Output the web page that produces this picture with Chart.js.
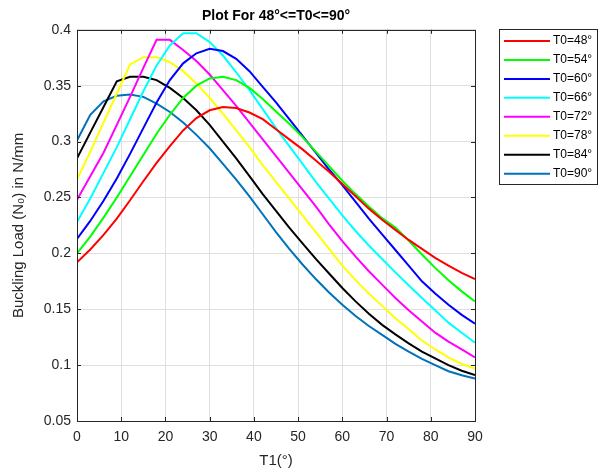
<!DOCTYPE html>
<html lang="en">
<head>
    <meta charset="UTF-8">
    <title>Plot For 48°&lt;=T0&lt;=90°</title>
    <script src="https://cdn.jsdelivr.net/npm/chart.js"></script>
    <style>
        body {
            margin: 0;
            background-color: #fff;
        }
    </style>
</head>
<body>
    <canvas id="plot" width="602" height="474"></canvas>

    <script>
        // T1 angle (deg), sampled every 3 degrees
        const t1 = [0, 3, 6, 9, 12, 15, 18, 21, 24, 27, 30, 33, 36, 39, 42, 45, 48, 51, 54, 57, 60, 63, 66, 69, 72, 75, 78, 81, 84, 87, 90];

        const seriesLabels = ['T0=48°', 'T0=54°', 'T0=60°', 'T0=66°', 'T0=72°', 'T0=78°', 'T0=84°', 'T0=90°'];
        const seriesColors = ['#ff0000', '#00ff00', '#0000ff', '#00ffff', '#ff00ff', '#ffff00', '#000000', '#0072bd'];

        // Buckling load N0 (N/mm) for each T0
        const load48 = [0.192, 0.2035, 0.2165, 0.231, 0.2475, 0.2645, 0.281, 0.296, 0.310, 0.321, 0.328, 0.331, 0.330, 0.326, 0.320, 0.311, 0.302, 0.293, 0.283, 0.273, 0.262, 0.251, 0.240, 0.230, 0.221, 0.212, 0.204, 0.196, 0.189, 0.1825, 0.177];
        const load54 = [0.200, 0.215, 0.232, 0.250, 0.269, 0.288, 0.307, 0.324, 0.339, 0.350, 0.3565, 0.358, 0.355, 0.348, 0.338, 0.327, 0.316, 0.304, 0.291, 0.278, 0.265, 0.253, 0.242, 0.2315, 0.223, 0.2115, 0.199, 0.187, 0.176, 0.166, 0.157];
        const load60 = [0.213, 0.229, 0.247, 0.267, 0.289, 0.312, 0.335, 0.355, 0.370, 0.379, 0.383, 0.381, 0.374, 0.363, 0.349, 0.335, 0.320, 0.305, 0.290, 0.275, 0.261, 0.246, 0.231, 0.217, 0.203, 0.189, 0.175, 0.164, 0.154, 0.145, 0.137];
        const load66 = [0.228, 0.249, 0.272, 0.295, 0.320, 0.345, 0.368, 0.386, 0.397, 0.397, 0.389, 0.377, 0.362, 0.346, 0.329, 0.312, 0.296, 0.280, 0.264, 0.249, 0.234, 0.220, 0.207, 0.195, 0.183, 0.1715, 0.160, 0.149, 0.138, 0.129, 0.120];
        const load72 = [0.248, 0.269, 0.290, 0.315, 0.340, 0.366, 0.391, 0.391, 0.382, 0.372, 0.360, 0.346, 0.332, 0.317, 0.302, 0.287, 0.272, 0.257, 0.242, 0.226, 0.211, 0.197, 0.184, 0.172, 0.160, 0.149, 0.139, 0.129, 0.121, 0.114, 0.107];
        const load78 = [0.266, 0.291, 0.317, 0.343, 0.369, 0.3755, 0.3755, 0.371, 0.363, 0.352, 0.339, 0.325, 0.310, 0.295, 0.279, 0.264, 0.249, 0.234, 0.219, 0.204, 0.189, 0.176, 0.164, 0.153, 0.142, 0.132, 0.122, 0.114, 0.107, 0.101, 0.097];
        const load84 = [0.285, 0.308, 0.331, 0.354, 0.358, 0.358, 0.355, 0.348, 0.339, 0.328, 0.315, 0.300, 0.285, 0.269, 0.253, 0.238, 0.223, 0.209, 0.195, 0.182, 0.169, 0.157, 0.146, 0.136, 0.1275, 0.1195, 0.112, 0.106, 0.100, 0.095, 0.091];
        const load90 = [0.301, 0.324, 0.336, 0.341, 0.342, 0.340, 0.334, 0.3265, 0.317, 0.306, 0.294, 0.280, 0.266, 0.251, 0.235, 0.219, 0.204, 0.190, 0.177, 0.165, 0.154, 0.144, 0.135, 0.127, 0.119, 0.112, 0.1055, 0.100, 0.0945, 0.091, 0.088];

        const xTicks = [0, 10, 20, 30, 40, 50, 60, 70, 80, 90];
        const yTicks = [0.05, 0.1, 0.15, 0.2, 0.25, 0.3, 0.35, 0.4];
        const yTickLabels = ['0.05', '0.1', '0.15', '0.2', '0.25', '0.3', '0.35', '0.4'];

        const allLoads = [load48, load54, load60, load66, load72, load78, load84, load90];

        const axisColor = '#262626';
        const gridColor = '#dfdfdf';

        Chart.defaults.font.family = '"Liberation Sans", Arial, sans-serif';

        // box around the axes, inward ticks and the boxed legend (MATLAB look)
        const matlabBox = {
            id: 'matlabBox',
            afterDraw(chart) {
                const ctx = chart.ctx;
                const a = chart.chartArea;
                const x = chart.scales.x;
                const y = chart.scales.y;
                ctx.save();
                ctx.strokeStyle = axisColor;
                ctx.lineWidth = 1;
                ctx.strokeRect(Math.round(a.left) + 0.5, Math.round(a.top) + 0.5,
                    Math.round(a.right - a.left), Math.round(a.bottom - a.top));
                ctx.beginPath();
                xTicks.forEach(v => {
                    const px = Math.round(x.getPixelForValue(v)) + 0.5;
                    ctx.moveTo(px, a.bottom); ctx.lineTo(px, a.bottom - 4);
                    ctx.moveTo(px, a.top); ctx.lineTo(px, a.top + 4);
                });
                yTicks.forEach(v => {
                    const py = Math.round(y.getPixelForValue(v)) + 0.5;
                    ctx.moveTo(a.left, py); ctx.lineTo(a.left + 4, py);
                    ctx.moveTo(a.right, py); ctx.lineTo(a.right - 4, py);
                });
                ctx.stroke();

                // legend
                const lx = 499.5, ly = 29.5, lw = 98, lh = 155;
                ctx.fillStyle = '#fff';
                ctx.fillRect(lx, ly, lw, lh);
                ctx.strokeStyle = axisColor;
                ctx.strokeRect(lx, ly, lw, lh);
                ctx.font = '12px "Liberation Sans", Arial, sans-serif';
                ctx.textBaseline = 'middle';
                chart.data.datasets.forEach((ds, i) => {
                    const cy = 41 + i * 18.95;
                    ctx.strokeStyle = ds.borderColor;
                    ctx.lineWidth = 2;
                    ctx.beginPath();
                    ctx.moveTo(504, cy);
                    ctx.lineTo(550, cy);
                    ctx.stroke();
                    ctx.fillStyle = '#000';
                    ctx.fillText(ds.label, 553, cy);
                });
                ctx.restore();
            }
        };

        const datasets = allLoads.map((load, i) => ({
            label: seriesLabels[i],
            data: t1.map((t, j) => ({ x: t, y: load[j] })),
            borderColor: seriesColors[i],
            backgroundColor: seriesColors[i],
            borderWidth: 2,
            pointRadius: 0,
            tension: 0,
            fill: false
        }));

        new Chart(document.getElementById('plot'), {
            type: 'line',
            data: { datasets: datasets },
            options: {
                responsive: false,
                animation: false,
                layout: { padding: { left: 0, right: 127, top: 0, bottom: 0 } },
                plugins: {
                    legend: { display: false },
                    tooltip: { enabled: false },
                    title: {
                        display: true,
                        text: 'Plot For 48°<=T0<=90°',
                        color: '#000',
                        fullSize: false,
                        font: { size: 14, weight: 'bold' },
                        padding: { top: 8, bottom: 5 }
                    }
                },
                scales: {
                    x: {
                        type: 'linear',
                        min: 0,
                        max: 90,
                        afterBuildTicks: s => { s.ticks = xTicks.map(v => ({ value: v })); },
                        afterFit: s => { s.height = 53; },
                        grid: { color: gridColor, drawTicks: false },
                        border: { display: false },
                        ticks: { color: axisColor, font: { size: 14 }, padding: 8 },
                        title: {
                            display: true,
                            text: 'T1(°)',
                            color: axisColor,
                            font: { size: 15 },
                            padding: { top: 4, bottom: 4 }
                        }
                    },
                    y: {
                        min: 0.05,
                        max: 0.4,
                        afterBuildTicks: s => { s.ticks = yTicks.map(v => ({ value: v })); },
                        afterFit: s => { s.width = 77; },
                        grid: { color: gridColor, drawTicks: false },
                        border: { display: false },
                        ticks: {
                            color: axisColor,
                            font: { size: 14 },
                            padding: 6,
                            callback: (v, i) => yTickLabels[i]
                        },
                        title: {
                            display: true,
                            text: 'Buckling Load (N₀) in N/mm',
                            color: axisColor,
                            font: { size: 15 },
                            padding: { top: 10, bottom: 0 }
                        }
                    }
                }
            },
            plugins: [matlabBox]
        });
    </script>
</body>
</html>
